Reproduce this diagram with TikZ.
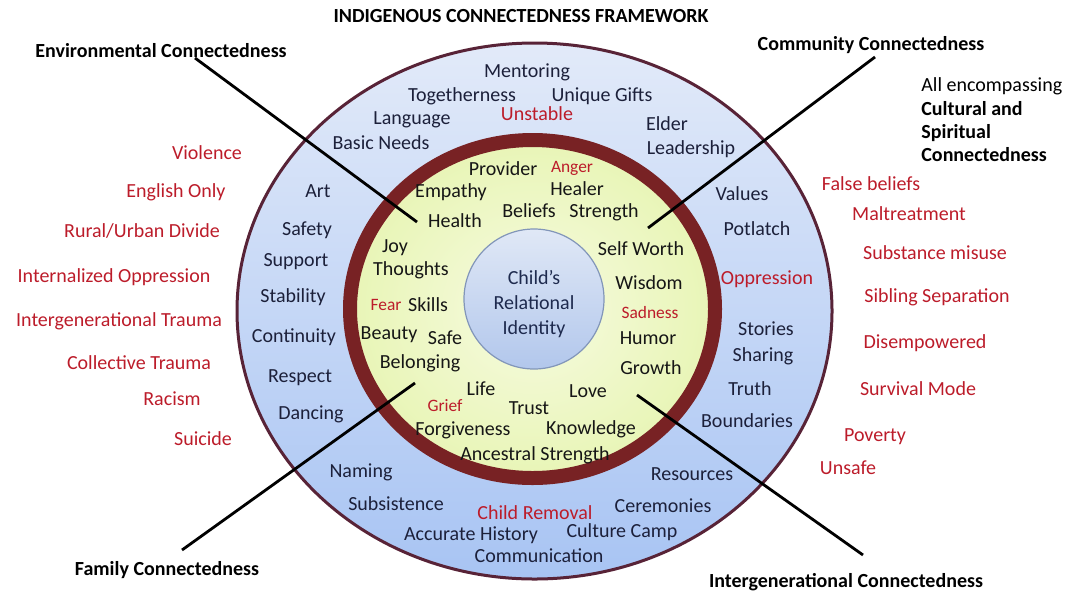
\documentclass[tikz,border=0pt]{standalone}
\usepackage{fontspec}
\setmainfont{Carlito}
\usepackage{tikz}
\usetikzlibrary{positioning}
\definecolor{rimdark}{RGB}{88,35,55}
\definecolor{ringred}{RGB}{120,34,36}
\definecolor{skytop}{RGB}{226,234,249}
\definecolor{skybottom}{RGB}{168,196,243}
\definecolor{leafin}{RGB}{247,251,225}
\definecolor{leafout}{RGB}{232,245,182}
\definecolor{coretop}{RGB}{224,232,246}
\definecolor{corebottom}{RGB}{178,199,236}
\definecolor{coreline}{RGB}{130,150,185}
\definecolor{corenavy}{RGB}{30,42,78}
\definecolor{inkblue}{RGB}{28,32,58}
\definecolor{inkblack}{RGB}{22,22,22}
\definecolor{alarm}{RGB}{188,28,42}
\tikzstyle{word}=[inner sep=0pt, text height=8pt, text depth=1pt, font=\fontsize{10}{12}\selectfont, text=inkblue]
\tikzstyle{inword}=[word, text=inkblack]
\tikzstyle{harm}=[word, text=alarm]
\tikzstyle{inharm}=[harm, font=\fontsize{8.7}{10}\selectfont]
\tikzstyle{heading}=[word, text=black, font=\bfseries\fontsize{10}{12}\selectfont]
\tikzstyle{spoke}=[line width=1.4pt, black]

\begin{document}
\begin{tikzpicture}[x=0.5pt, y=-0.5pt]
        \useasboundingbox (0,0) rectangle (1074,590);

        % Outer band
        \draw [line width=1.5pt, draw=rimdark, top color=skytop, bottom color=skybottom]
          (534.5,311) ellipse [x radius=297.5, y radius=268];

        % Inner band and its rim
        \draw [line width=7pt, draw=ringred, inner color=leafin, outer color=leafout]
          (532.5,309) ellipse [x radius=182.5, y radius=169];

        % Centre
        \node at (534,299) [circle, minimum size=70pt, inner sep=0pt, draw=coreline, line width=0.6pt,
          top color=coretop, bottom color=corebottom, align=center, text=corenavy,
          font=\fontsize{10}{12.5}\selectfont] (core) {\rule{0pt}{12pt}Child’s\\Relational\\Identity};

        % Spokes
        \coordinate (env_out) at (195,58);
        \coordinate (env_in) at (417,222);
        \coordinate (comm_out) at (875,57);
        \coordinate (comm_in) at (648,228);
        \coordinate (fam_out) at (182,550);
        \coordinate (fam_in) at (415,383);
        \coordinate (gen_out) at (863,555);
        \coordinate (gen_in) at (637,395);
        \foreach \s in {env,comm,fam,gen}
          \draw [spoke] (\s_out) -- (\s_in);

        % Headings
        \node at (521,15) [heading] (title) {INDIGENOUS CONNECTEDNESS FRAMEWORK};
        \node at (161,50) [heading] (env) {Environmental Connectedness};
        \node at (871,43) [heading] (comm) {Community Connectedness};
        \node at (167,568) [heading] (fam) {Family Connectedness};
        \node at (846,580) [heading] (gen) {Intergenerational Connectedness};
        \node at (921,120) [anchor=west, align=left, inner sep=0pt, text=black,
          font=\fontsize{10}{11.7}\selectfont] (spirit)
          {All encompassing\\\textbf{Cultural and}\\\textbf{Spiritual}\\\textbf{Connectedness}};

        % Outer band
        \foreach \px/\py/\w [count=\n] in {527/70/Mentoring, 462/94/Togetherness, 602/94/Unique Gifts,
            412/117/Language, 381/142/Basic Needs, 667/123/Elder, 691/147/Leadership,
            318/190/Art, 307/228/Safety, 296/259/Support, 293/295/Stability, 294/335/Continuity,
            300/375/Respect, 311/412/Dancing, 742/193/Values, 757/228/Potlatch, 766/328/Stories,
            763/354/Sharing, 750/388/Truth, 747/420/Boundaries, 361/470/Naming, 396/503/Subsistence,
            471/533/Accurate History, 539/555/Communication, 622/530/Culture Camp,
            663/505/Ceremonies, 692/473/Resources}
          \node at (\px,\py) [word] (outer_\n) {\w};
        \foreach \px/\py/\w [count=\n] in {537/113/Unstable, 767/277/Oppression, 535/512/Child Removal}
          \node at (\px,\py) [harm] (outerharm_\n) {\w};

        % Inner band
        \foreach \px/\py/\w [count=\n] in {503/168/Provider, 451/190/Empathy, 577/188/Healer,
            455/220/Health, 529/210/Beliefs, 604/210/Strength, 395/245/Joy, 641/248/Self Worth,
            411/268/Thoughts, 649/282/Wisdom, 428/304/Skills, 389/332/Beauty, 445/337/Safe,
            648/337/Humor, 420/361/Belonging, 651/367/Growth, 481/388/Life, 588/390/Love,
            529/407/Trust, 463/428/Forgiveness, 591/427/Knowledge, 535/453/Ancestral Strength}
          \node at (\px,\py) [inword] (inner_\n) {\w};
        \foreach \px/\py/\w [count=\n] in {572/165/Anger, 386/303/Fear, 650/311/Sadness, 445/404/Grief}
          \node at (\px,\py) [inharm] (innerharm_\n) {\w};

        % Harms outside
        \foreach \px/\py/\w [count=\n] in {207/152/Violence, 176/190/English Only,
            142/230/Rural\slash Urban Divide, 114/275/Internalized Oppression,
            119/319/Intergenerational Trauma, 139/362/Collective Trauma, 172/398/Racism,
            203/438/Suicide}
          \node at (\px,\py) [harm] (left_\n) {\w};
        \foreach \px/\py/\w [count=\n] in {871/183/False beliefs, 909/213/Maltreatment,
            935/252/Substance misuse, 937/295/Sibling Separation, 925/341/Disempowered,
            918/388/Survival Mode, 875/434/Poverty, 848/467/Unsafe}
          \node at (\px,\py) [harm] (right_\n) {\w};
\end{tikzpicture}
\end{document}
